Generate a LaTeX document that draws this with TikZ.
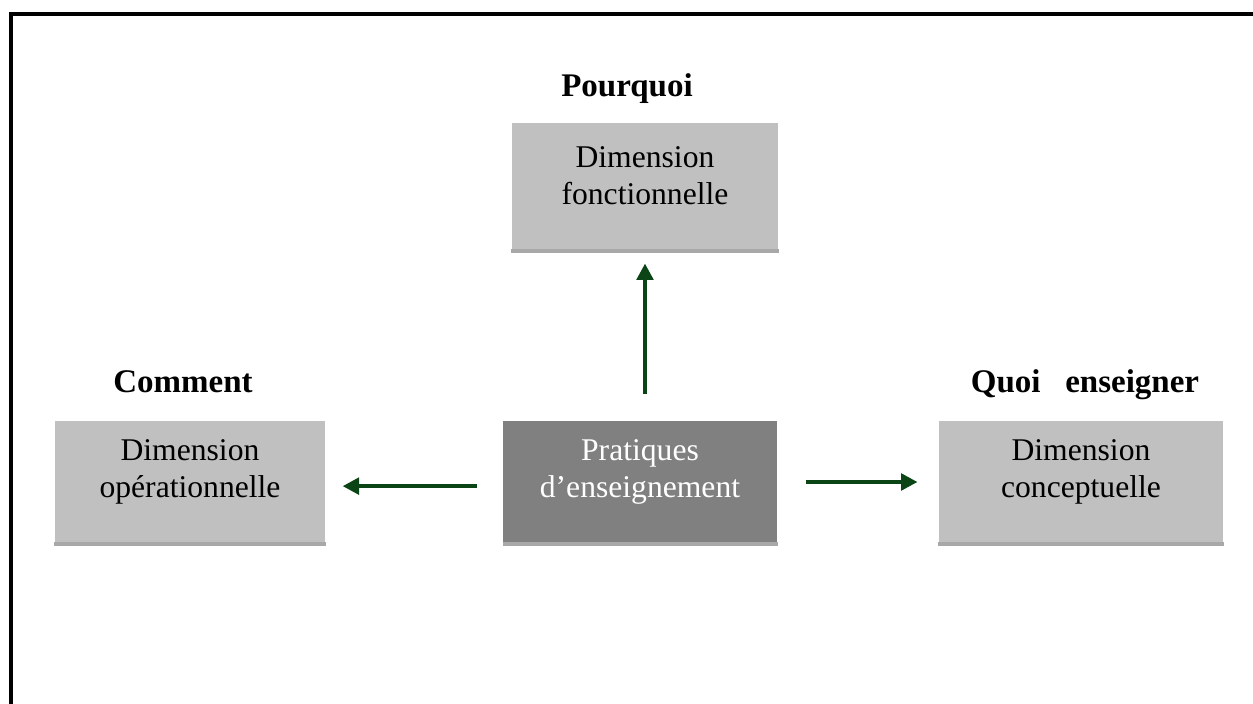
\documentclass[tikz,border=0pt]{standalone}
\usepackage{fontspec}
\setmainfont{Liberation Serif}
\usetikzlibrary{arrows.meta,positioning}
\definecolor{boxgray}{HTML}{C0C0C0}
\definecolor{stripgray}{HTML}{A8A8A8}
\definecolor{coregray}{HTML}{808080}
\definecolor{arrowgreen}{HTML}{0B4516}

\begin{document}
\begin{tikzpicture}[
            x=0.36364pt, y=-0.36364pt,
            box/.style={rectangle, fill=boxgray, inner sep=0pt, minimum height=44.4pt,
                append after command={(\tikzlastnode.south west) edge[draw=stripgray, line width=1.5pt] (\tikzlastnode.south east)}},
            corebox/.style={box, fill=coregray},
            boxtext/.style={align=center, font=\fontsize{11.5}{13.6}\selectfont, yshift=3.7pt},
            title/.style={anchor=base, inner sep=0pt, font=\fontsize{12}{14}\selectfont\bfseries},
            flow/.style={-{Triangle[length=6pt, width=6pt]}, line width=1.45pt, draw=arrowgreen}
        ]
        \useasboundingbox (0,0) rectangle (1253,704);

        % Frame
        \draw[line width=1.1pt] (11,740) |- (1280,14);

        % Boxes
        \node[corebox, minimum width=99.6pt, label={[boxtext, text=white]center:Pratiques\\d’enseignement}] (pratiques) at (640,482) {};
        \node[box, minimum width=96.7pt, minimum height=46.2pt, label={[boxtext, yshift=0.3pt]center:Dimension\\fonctionnelle}] (fonct) at (645,186.5) {};
        \node[box, minimum width=98.2pt, label={[boxtext]center:Dimension\\opérationnelle}] (operat) at (190,482) {};
        \node[box, minimum width=103.3pt, label={[boxtext]center:Dimension\\conceptuelle}] (concept) at (1081,482) {};

        % Titles
        \node[title] (pourquoi) at (627,97) {Pourquoi};
        \node[title] (comment) at (183,392) {Comment};
        \node[title] (quoi) at (1085,392) {Quoi \ \ enseigner};

        % Arrows
        \draw[flow, shorten <=9.5pt, shorten >=4.7pt] (pratiques.north -| fonct.south) -- (fonct.south);
        \draw[flow, shorten <=9.1pt, shorten >=6.2pt] ([yshift=-1.5pt]pratiques.west) -- ([yshift=-1.5pt]operat.east);
        \draw[flow, shorten <=10.5pt, shorten >=7.6pt] (pratiques.east) -- (concept.west);

        \end{tikzpicture}
\end{document}
